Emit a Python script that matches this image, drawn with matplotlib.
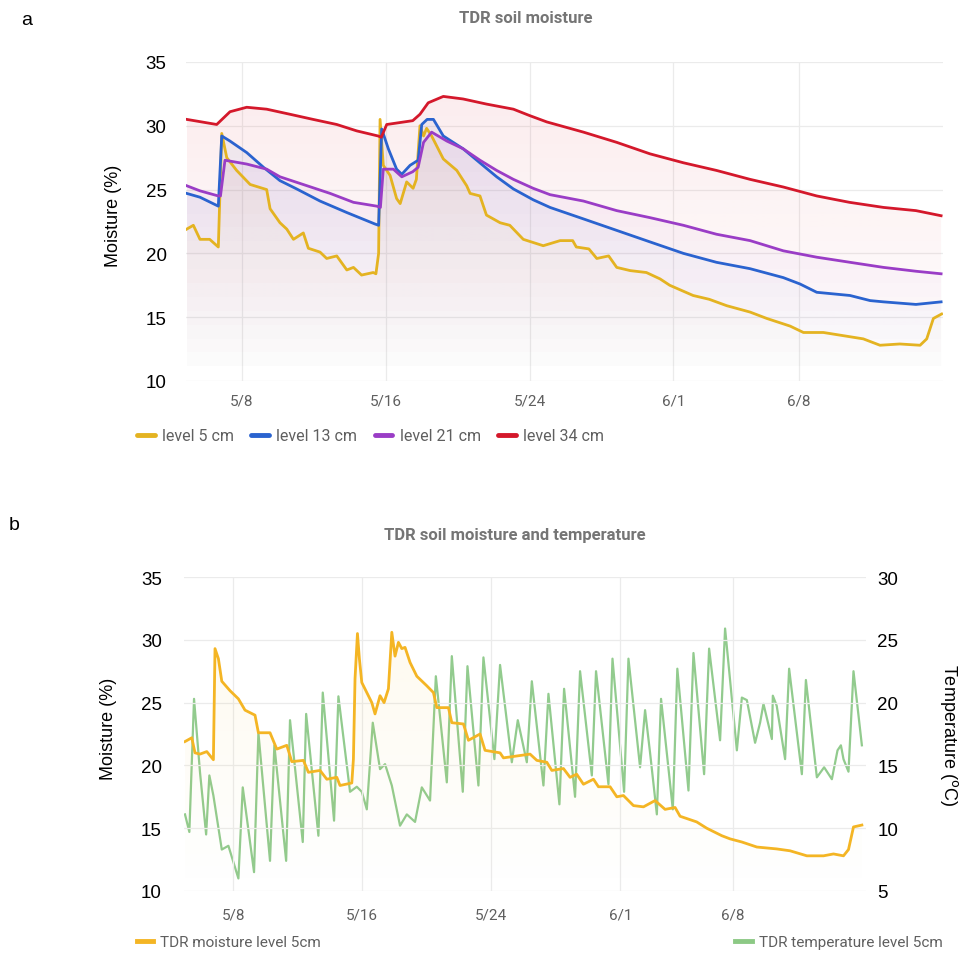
import numpy as np
import matplotlib.pyplot as plt
from matplotlib.colors import to_rgb
from matplotlib.lines import Line2D

plt.rcParams['font.family'] = ['Liberation Sans', 'DejaVu Sans']

# x positions are days counted from May 1 (7 -> 5/8, 31 -> 6/1)
tick_days = [7, 15, 23, 31, 38]
tick_labels = ['5/8', '5/16', '5/24', '6/1', '6/8']

# ---- panel a: TDR soil moisture (%) at four depths ----
lvl5_day = [3.92, 4.29, 4.66, 5.2, 5.68, 5.87, 6.15, 6.7, 7.45, 8.37, 8.56, 9.11, 9.49, 9.86,
            10.41, 10.69, 11.34, 11.71, 12.27, 12.83, 13.2, 13.65, 14.3, 14.45, 14.6, 14.68,
            14.86, 15.24, 15.6, 15.8, 16.16, 16.52, 16.7, 16.9, 17.1, 17.27, 17.55, 18.2, 18.95,
            19.5, 19.69, 20.24, 20.6, 21.36, 21.9, 22.65, 23.76, 24.7, 25.4, 25.6, 26.3, 26.74,
            27.4, 27.85, 28.6, 29.5, 30.26, 30.8, 32.1, 33.0, 33.97, 35.27, 36.2, 37.5, 38.24,
            39.35, 40.46, 41.57, 42.5, 43.6, 44.73, 45.1, 45.47, 45.93]
lvl5_val = [21.9, 22.2, 21.1, 21.1, 20.5, 29.4, 27.5, 26.5, 25.4, 25.0, 23.5, 22.4, 21.9, 21.1,
            21.6, 20.4, 20.1, 19.6, 19.8, 18.7, 18.9, 18.3, 18.5, 18.4, 20.0, 30.5,
            26.9, 26.1, 24.3, 23.9, 25.6, 25.1, 25.8, 30.0, 29.2, 29.8, 29.2, 27.4, 26.5,
            25.3, 24.7, 24.5, 23.0, 22.4, 22.2, 21.1, 20.6, 21.0, 21.0, 20.5, 20.35, 19.6,
            19.8, 18.9, 18.65, 18.5, 18.0, 17.5, 16.7, 16.4, 15.9, 15.4, 14.9, 14.3, 13.8,
            13.8, 13.55, 13.3, 12.8, 12.9, 12.8, 13.3, 14.9, 15.25]

lvl13_day = [3.92, 4.66, 5.68, 5.87, 6.33, 7.26, 8.19, 9.11, 10.04, 11.34, 12.83, 14.4, 14.6,
             14.77, 15.14, 15.6, 15.89, 16.35, 16.8, 17.0, 17.3, 17.65, 18.2, 19.3, 20.4, 21.17,
             22.1, 23.2, 24.14, 26.0, 27.85, 29.7, 31.56, 33.4, 35.27, 37.12, 38.05, 38.98,
             40.83, 41.95, 42.7, 44.5, 45.9]
lvl13_val = [24.7, 24.4, 23.7, 29.2, 28.8, 27.9, 26.75, 25.7, 25.05, 24.1, 23.2, 22.3, 22.2,
             29.75, 28.2, 26.6, 26.2, 26.9, 27.3, 30.1, 30.5, 30.5, 29.2, 28.2, 26.9, 26.0,
             25.05, 24.2, 23.6, 22.7, 21.8, 20.9, 20.0, 19.3, 18.8, 18.1, 17.6, 16.95,
             16.7, 16.3, 16.2, 16.0, 16.2]

lvl21_day = [3.92, 4.66, 5.68, 5.8, 6.05, 7.26, 8.37, 9.11, 10.4, 11.9, 13.2, 14.5, 14.7,
             14.86, 15.42, 15.89, 16.5, 16.8, 17.1, 17.55, 18.4, 19.3, 20.24, 21.17, 22.1,
             23.2, 24.14, 26.0, 27.85, 29.7, 31.56, 33.4, 35.27, 37.12, 38.98, 40.83, 42.7,
             44.5, 45.9]
lvl21_val = [25.3, 24.9, 24.5, 24.5, 27.3, 27.0, 26.6, 26.0, 25.4, 24.7, 24.0, 23.7, 23.6,
             26.6, 26.6, 26.0, 26.4, 26.75, 28.7, 29.5, 28.8, 28.2, 27.3, 26.5, 25.8,
             25.1, 24.6, 24.1, 23.35, 22.8, 22.2, 21.5, 21.0, 20.2, 19.7, 19.3, 18.9,
             18.6, 18.4]

lvl34_day = [3.92, 5.59, 6.33, 7.26, 8.37, 9.67, 10.95, 12.27, 13.38, 14.57, 14.75, 15.05, 16.5,
             16.9, 17.36, 18.2, 19.3, 20.6, 22.1, 23.0, 23.96, 26.0, 27.85, 29.7, 31.56, 33.4,
             35.27, 37.12, 38.98, 40.8, 42.7, 44.5, 45.9]
lvl34_val = [30.5, 30.1, 31.1, 31.45, 31.3, 30.9, 30.5, 30.1, 29.6, 29.2, 29.1, 30.1, 30.4,
             30.9, 31.8, 32.3, 32.1, 31.7, 31.3, 30.8, 30.3, 29.5, 28.7, 27.8, 27.1, 26.5,
             25.8, 25.2, 24.5, 24.0, 23.6, 23.35, 22.95]

# ---- panel b: moisture (%) and temperature (°C) at 5 cm ----
moist_day = [4.02, 4.44, 4.64, 4.95, 5.37, 5.78, 5.88, 6.09, 6.3, 6.81, 7.33, 7.74, 8.36, 8.57,
             9.29, 9.71, 10.33, 10.64, 11.36, 11.67, 12.39, 12.81, 13.43, 13.63, 14.36, 14.46,
             14.56, 14.71, 14.83, 14.98, 15.6, 15.8, 16.11, 16.36, 16.63, 16.84, 17.04, 17.25,
             17.46, 17.66, 17.97, 18.39, 19.0, 19.42, 19.63, 20.35, 20.56, 21.28, 21.59, 22.31,
             22.62, 23.55, 23.76, 25.41, 25.83, 26.45, 26.76, 27.48, 27.89, 28.3, 28.72, 29.34,
             29.65, 30.37, 30.79, 31.2, 31.82, 32.44, 33.16, 33.78, 34.4, 34.71, 35.74, 36.36,
             37.3, 37.81, 38.54, 39.47, 40.7, 41.53, 42.57, 43.6, 44.22, 44.84, 45.15, 45.46,
             45.98]
moist_val = [21.9, 22.2, 21.0, 20.9, 21.1, 20.45, 29.3, 28.5, 26.7, 25.95, 25.3, 24.4, 24.0, 22.6,
             22.6, 21.3, 21.6, 20.3, 20.4, 19.45, 19.6, 18.9, 19.05, 18.4, 18.6, 20.5,
             26.9, 30.5, 28.5, 26.6, 25.0, 24.1, 25.55, 25.0, 26.1, 30.6, 28.7, 29.8,
             29.3, 29.4, 28.2, 27.1, 26.35, 25.8, 24.6, 24.6, 23.4, 23.3, 22.0, 22.5,
             21.2, 21.0, 20.6, 20.9, 20.4, 20.25, 19.6, 19.75, 19.05, 19.3, 18.5, 18.9,
             18.3, 18.3, 17.5, 17.6, 16.8, 16.7, 17.2, 16.5, 16.65, 15.95, 15.5, 15.0,
             14.4, 14.15, 13.9, 13.5, 13.35, 13.2, 12.8, 12.8, 12.95, 12.8, 13.3, 15.1,
             15.25]

temp_day = [4.02, 4.29, 4.58, 4.95, 5.33, 5.53, 5.78, 6.3, 6.71, 7.33, 7.6, 8.3, 8.57, 9.29,
            9.56, 10.29, 10.53, 11.32, 11.53, 12.29, 12.56, 13.26, 13.53, 14.25, 14.67, 14.98,
            15.29, 15.66, 16.11, 16.42, 16.84, 17.35, 17.77, 18.28, 18.7, 19.21, 19.57, 20.25,
            20.56, 21.24, 21.53, 22.21, 22.52, 23.2, 23.55, 24.28, 24.65, 25.21, 25.52, 26.24,
            26.55, 27.23, 27.52, 28.2, 28.51, 29.24, 29.5, 30.27, 30.52, 31.24, 31.51, 32.23,
            32.54, 32.85, 33.27, 33.53, 34.26, 34.54, 35.23, 35.54, 36.2, 36.51, 37.19, 37.5,
            38.23, 38.54, 38.85, 39.36, 39.67, 39.88, 40.4, 40.46, 40.7, 41.22, 41.47, 42.26,
            42.51, 43.19, 43.64, 44.12, 44.47, 44.68, 44.84, 45.15, 45.46, 45.98]
temp_val = [11.1, 9.7, 20.3, 14.45, 9.5, 14.2, 12.6, 8.3, 8.6, 6.0, 13.25, 6.5, 17.6, 7.4,
            16.6, 7.4, 18.6, 8.9, 19.1, 9.4, 20.8, 10.6, 20.5, 12.9, 13.3, 12.9,
            11.5, 18.4, 14.7, 15.1, 13.4, 10.2, 11.1, 10.5, 13.25, 12.2, 22.1, 13.65,
            23.7, 12.9, 22.9, 13.4, 23.6, 15.5, 23.0, 15.25, 18.6, 15.25, 21.7, 13.4,
            20.7, 11.9, 21.1, 12.5, 22.5, 14.2, 22.5, 13.5, 23.5, 12.9, 23.5, 14.85,
            19.4, 16.0, 11.1, 20.3, 11.5, 22.7, 13.0, 23.95, 14.3, 24.3, 17.0, 25.9,
            16.2, 20.4, 20.2, 16.8, 18.4, 19.9, 17.1, 20.55, 19.75, 15.5, 22.7, 14.3,
            21.8, 14.05, 14.85, 13.9, 16.2, 16.6, 15.5, 14.5, 22.5, 16.6]

GRID = '#ebebeb'
TXT = '#5f5f5f'


def gradient_fill(ax, x, y, color, a_top, ybot, ytop):
    poly = ax.fill_between(x, y, ybot, color='none', lw=0)
    path = poly.get_paths()[0]
    rgba = np.zeros((256, 1, 4))
    rgba[..., :3] = to_rgb(color)
    rgba[..., 3] = np.linspace(a_top, 0.0, 256)[:, None]
    im = ax.imshow(rgba, aspect='auto', origin='upper', zorder=1,
                   extent=[min(x), max(x), ybot, ytop])
    im.set_clip_path(path, transform=ax.transData)


def style_axes(ax):
    for s in ax.spines.values():
        s.set_visible(False)
    ax.grid(True, color=GRID, lw=0.9, zorder=0)
    ax.set_axisbelow(True)
    ax.set_xticks(tick_days)
    ax.set_xticklabels(tick_labels, fontfamily='Roboto', color=TXT, fontsize=11)
    ax.tick_params(length=0)


fig = plt.figure(figsize=(9.59, 9.54), dpi=100)

# ---------------- panel a ----------------
ax1 = fig.add_axes([0.194, 0.5996, 0.7894, 0.3344])
series = [(lvl5_day, lvl5_val, '#e4b321', 'level 5 cm'),
          (lvl13_day, lvl13_val, '#2a63cf', 'level 13 cm'),
          (lvl21_day, lvl21_val, '#9a3dc6', 'level 21 cm'),
          (lvl34_day, lvl34_val, '#d4182b', 'level 34 cm')]
for d, v, c, lab in series:
    gradient_fill(ax1, d, v, c, 0.09, 10, 35)
for d, v, c, lab in series:
    ax1.plot(d, v, color=c, lw=2.0, zorder=3)
style_axes(ax1)
ax1.set_xlim(3.884, 46.01)
ax1.set_ylim(10, 35)
ax1.set_yticks([10, 15, 20, 25, 30, 35])
ax1.tick_params(axis='y', labelsize=13.5, pad=14)
ax1.tick_params(axis='x', pad=9)
ax1.set_ylabel('Moisture (%)', fontsize=13)
ax1.yaxis.set_label_coords(-0.085, 0.52)

handles = [Line2D([], [], color=c, lw=3.5, solid_capstyle='round') for _, _, c, _ in series]
fig.legend(handles, [s[3] for s in series], loc='center left', bbox_to_anchor=(0.128, 0.542),
           ncol=4, frameon=False, handlelength=1.1, handletextpad=0.45, columnspacing=1.1,
           prop={'family': 'Roboto', 'size': 11.5}, labelcolor=TXT)

fig.text(0.548, 0.981, 'TDR soil moisture', ha='center', va='center', fontfamily='Roboto',
         fontweight='bold', fontsize=12, color='#757575')
fig.text(0.028, 0.979, 'a', ha='center', va='center', fontsize=14)

# ---------------- panel b ----------------
ax2 = fig.add_axes([0.1919, 0.065, 0.7112, 0.3291])
ax3 = ax2.twinx()
gradient_fill(ax2, moist_day, moist_val, '#f6c343', 0.10, 10, 35)
ax3.plot(temp_day, temp_val, color='#7fc27a', lw=1.6, alpha=0.85, zorder=2)
ax2.plot(moist_day, moist_val, color='#f4b524', lw=2.0, zorder=3)
ax2.set_zorder(ax3.get_zorder() + 1)
ax2.patch.set_visible(False)
style_axes(ax2)
for s in ax3.spines.values():
    s.set_visible(False)
ax2.set_xlim(3.96, 46.24)
ax2.set_ylim(10, 35)
ax3.set_ylim(5, 30)
ax2.set_yticks([10, 15, 20, 25, 30, 35])
ax3.set_yticks([5, 10, 15, 20, 25, 30])
ax2.tick_params(axis='y', labelsize=13.5, pad=16)
ax2.tick_params(axis='x', pad=12)
ax3.tick_params(length=0, labelsize=13.5, pad=8)
ax2.set_ylabel('Moisture (%)', fontsize=13)
ax2.yaxis.set_label_coords(-0.098, 0.52)
ax3.set_ylabel('Temperature ($^{\\rm o}$C)', fontsize=13, rotation=270)
ax3.yaxis.set_label_coords(1.138, 0.5)

fig.legend([Line2D([], [], color='#f4b524', lw=3.5)], ['TDR moisture level 5cm'],
           loc='center left', bbox_to_anchor=(0.128, 0.0115), frameon=False,
           handlelength=1.1, handletextpad=0.45, prop={'family': 'Roboto', 'size': 11},
           labelcolor=TXT)
fig.legend([Line2D([], [], color='#8cc985', lw=3.5)], ['TDR temperature level 5cm'],
           loc='center right', bbox_to_anchor=(0.997, 0.0115), frameon=False,
           handlelength=1.1, handletextpad=0.45, prop={'family': 'Roboto', 'size': 11},
           labelcolor=TXT)

fig.text(0.537, 0.439, 'TDR soil moisture and temperature', ha='center', va='center',
         fontfamily='Roboto', fontweight='bold', fontsize=12, color='#757575')
fig.text(0.015, 0.449, 'b', ha='center', va='center', fontsize=14)

fig.savefig('out.png', dpi=100)
